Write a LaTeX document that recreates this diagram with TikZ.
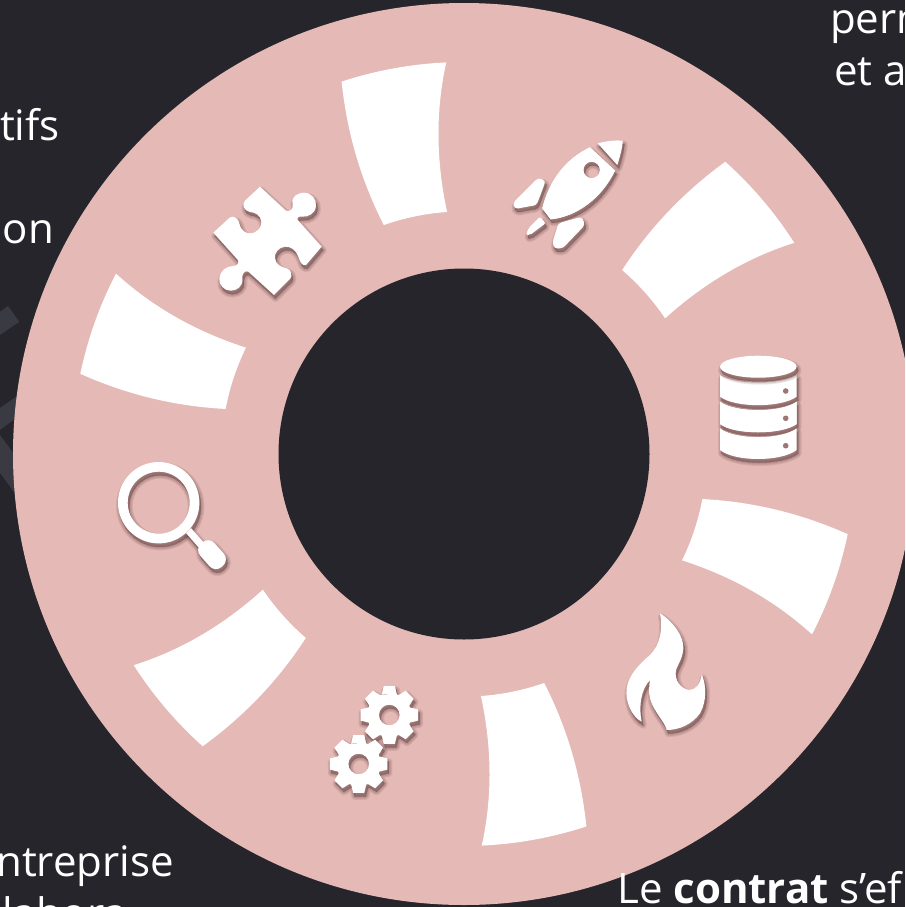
\documentclass[tikz,border=0pt]{standalone}
\usepackage{fontspec}
\setmainfont{Open Sans}
\definecolor{bgdark}{HTML}{26252B}
\definecolor{ringpink}{HTML}{E4B9B6}
\definecolor{stripgrey}{HTML}{3A3A42}
\definecolor{shad}{HTML}{6A4A48}
\newcommand{\softshadow}[1]{%
  \foreach \w in {7pt,5pt,3pt,1pt,0pt}{%
    \path[shift={(1.5pt,-3.5pt)},fill=shad,draw=shad,line width=\w,fill opacity=.13,draw opacity=.13,line join=round,even odd rule] #1;
  }%
}
\newcommand{\whiteicon}[1]{\fill[white,even odd rule] #1;}
\newcommand{\iconpath}[1]{\softshadow{#1}\whiteicon{#1}}
\newcommand{\gearpath}[2]{ (#1) ++(70:22pt)
  \foreach \a in {90,45,...,-225}{ -- ([shift={(#1)}]\a+20:22pt) -- ([shift={(#1)}]\a+11:29.3pt) -- ([shift={(#1)}]\a-11:29.3pt) -- ([shift={(#1)}]\a-20:22pt) } -- cycle (#1) circle[radius=10.3pt] }
\tikzset{
  label text/.style={text=white,inner sep=0pt,font=\fontsize{42}{52}\selectfont},
  zoomA/.style={x=.3333pt,y=-.3333pt,shift={(480pt,-110pt)}},
  zoomB/.style={x=.3333pt,y=-.3333pt,shift={(300pt,-600pt)}},
  zoomC/.style={x=.3333pt,y=-.3333pt,shift={(200pt,-180pt)}},
  zoomD/.style={x=.3333pt,y=-.3333pt,shift={(610pt,-605pt)}},
}
\begin{document}
\begin{tikzpicture}[x=1pt,y=-1pt]
\useasboundingbox (0,0) rectangle (905,907);
\clip (0,0) rectangle (905,907);
\fill[bgdark] (0,0) rectangle (905,907);
% faint background strokes
\fill[stripgrey] (0,311.7) -- (8,306) -- (19.3,321.7) -- (0,335) -- cycle;
\fill[stripgrey] (0,408) -- (20,394) -- (20,415) -- (0,430) -- cycle;
\fill[stripgrey] (0,435) -- (20,462) -- (20,500) -- (0,473) -- cycle;
% ring
\fill[ringpink] (464,454) circle[radius=451pt];
\fill[bgdark] (464,454) circle[radius=185.5pt];
% six white cells
\foreach \k in {0,...,5}{
\begin{scope}[x=1pt,y=1pt,shift={(464pt,-454pt)},rotate=\k*60]
  \fill[white] (92.6:392pt) arc[start angle=92.6,end angle=108.2,radius=392pt]
    .. controls (-117,321) and (-103,273.6) .. (109.3:242.6pt)
    arc[start angle=109.3,end angle=94,radius=242.6pt]
    .. controls (-27.7,292) and (-28.7,342) .. cycle;
\end{scope}}
% rocket
\begin{scope}[zoomA]
\iconpath{(330,112) .. controls (250,150) and (205,220) .. (187,295) -- (212,328) .. controls (290,320) and (365,265) .. (405,182) -- cycle (335,180) circle[radius=8.3pt]}
\softshadow{(353,100) .. controls (385,92) and (410,90) .. (428,92) .. controls (428,110) and (420,140) .. (412,165) -- cycle}
\softshadow{[rounded corners=3pt] (175,203) -- (197,213) -- (170,285) -- (105,297) -- (98,280) -- cycle}
\softshadow{[rounded corners=3pt] (235,340) -- (305,320) -- (315,345) -- (248,415) -- (222,415) -- (218,395) -- cycle}
\softshadow{[rounded corners=2pt] (180,320) -- (197,340) -- (150,375) -- (138,375) -- (145,355) -- cycle}
\whiteicon{(353,100) .. controls (385,92) and (410,90) .. (428,92) .. controls (428,110) and (420,140) .. (412,165) -- cycle}
\whiteicon{[rounded corners=3pt] (175,203) -- (197,213) -- (170,285) -- (105,297) -- (98,280) -- cycle}
\whiteicon{[rounded corners=3pt] (235,340) -- (305,320) -- (315,345) -- (248,415) -- (222,415) -- (218,395) -- cycle}
\whiteicon{[rounded corners=2pt] (180,320) -- (197,340) -- (150,375) -- (138,375) -- (145,355) -- cycle}
\whiteicon{(330,112) .. controls (250,150) and (205,220) .. (187,295) -- (212,328) .. controls (290,320) and (365,265) .. (405,182) -- cycle (335,180) circle[radius=8.3pt]}
\end{scope}
% database
\iconpath{(720,396.7) -- (720,375) .. controls (735,385) and (781,385) .. (796.7,375) -- (796.7,396.7) .. controls (781,408) and (735,408) .. (720,396.7) -- cycle}
\iconpath{(720,424) -- (720,401.7) .. controls (735,413) and (781,413) .. (796.7,401.7) -- (796.7,424) .. controls (781,435) and (735,435) .. (720,424) -- cycle}
\softshadow{(720,450) -- (720,428.3) .. controls (735,440) and (781,440) .. (796.7,428.3) -- (796.7,450) .. controls (781,462) and (735,462) .. (720,450) -- cycle}
\whiteicon{(720,450) -- (720,428.3) .. controls (735,440) and (781,440) .. (796.7,428.3) -- (796.7,450) .. controls (781,462) and (735,462) .. (720,450) -- cycle}
\softshadow{(758.3,366.7) ellipse[x radius=38.3pt,y radius=11pt]}
\whiteicon{(758.3,366.7) ellipse[x radius=38.3pt,y radius=11pt]}
\whiteicon{(720,424) -- (720,401.7) .. controls (735,413) and (781,413) .. (796.7,401.7) -- (796.7,424) .. controls (781,435) and (735,435) .. (720,424) -- cycle}
\foreach \yy in {391,418.3,445.7}{\fill[shad!60!ringpink] (785.7,\yy) circle[radius=2.8pt];}
% flame
\begin{scope}[zoomD]
\iconpath{(150,25) .. controls (190,50) and (222,95) .. (220,130) .. controls (218,160) and (205,175) .. (198,195) .. controls (192,225) and (212,252) .. (238,255) .. controls (258,255) and (272,235) .. (275,208) .. controls (290,240) and (290,290) .. (270,325) .. controls (245,360) and (205,375) .. (170,375) .. controls (165,350) and (130,320) .. (120,280) .. controls (115,260) and (118,240) .. (120,225) .. controls (95,250) and (85,300) .. (95,350) .. controls (65,335) and (45,290) .. (50,250) .. controls (55,210) and (90,175) .. (120,150) .. controls (150,120) and (160,70) .. (150,25) -- cycle}
\end{scope}
% gears
\iconpath{\gearpath{389.3,715}{}}
\iconpath{\gearpath{358.7,764}{}}
% magnifier
\softshadow{(158.7,502.7) circle[radius=40.7pt] (158.7,502.7) circle[radius=31pt]}
\softshadow{(186,533) -- (191,528) -- (205,544) -- (200,549) -- cycle}
\softshadow{[rounded corners=8.5pt] (208.8,536.7) -- (229.4,560) -- (215.2,572.6) -- (194.6,549.3) -- cycle}
\whiteicon{(158.7,502.7) circle[radius=40.7pt] (158.7,502.7) circle[radius=31pt]}
\whiteicon{(186,533) -- (191,528) -- (205,544) -- (200,549) -- cycle}
\whiteicon{[rounded corners=8.5pt] (208.8,536.7) -- (229.4,560) -- (215.2,572.6) -- (194.6,549.3) -- cycle}
% puzzle
\begin{scope}[zoomC]
\iconpath{(180,20) -- (258,92) .. controls (270,98) and (282,85) .. (278,70) .. controls (272,50) and (295,38) .. (312,38) .. controls (335,38) and (350,58) .. (348,78) .. controls (346,100) and (325,112) .. (305,110) .. controls (295,108) and (288,115) .. (295,122) -- (365,200) -- (318,255) .. controls (305,258) and (300,245) .. (295,230) .. controls (288,210) and (270,198) .. (255,200) .. controls (235,202) and (222,220) .. (225,235) .. controls (228,255) and (245,262) .. (260,265) .. controls (275,268) and (278,290) .. (270,297) -- (222,345) -- (145,275) .. controls (135,270) and (125,282) .. (127,295) .. controls (130,320) and (110,332) .. (92,332) .. controls (72,332) and (56,315) .. (58,295) .. controls (60,272) and (80,258) .. (100,258) .. controls (112,258) and (120,248) .. (112,238) -- (40,158) -- (90,112) .. controls (105,105) and (115,118) .. (118,130) .. controls (122,150) and (135,160) .. (150,160) .. controls (172,160) and (186,140) .. (184,125) .. controls (182,105) and (165,97) .. (150,96) .. controls (130,92) and (125,72) .. (135,62) -- cycle}
\end{scope}
% texts
\node[label text,anchor=base east] (t1) at (60,140) {tifs};
\node[label text,anchor=base east] (t2) at (54,243) {ion};
\node[label text,anchor=base east] (t3) at (174,876) {ntreprise};
\node[label text,anchor=base east] (t4) at (127,928) {llabora};
\node[label text,anchor=base west] (t5) at (830,34) {perm};
\node[label text,anchor=base west] (t6) at (834,85) {et a};
\node[label text,anchor=base west] (t7) at (617,903) {Le \textbf{contrat} s’ef};
\end{tikzpicture}
\end{document}
